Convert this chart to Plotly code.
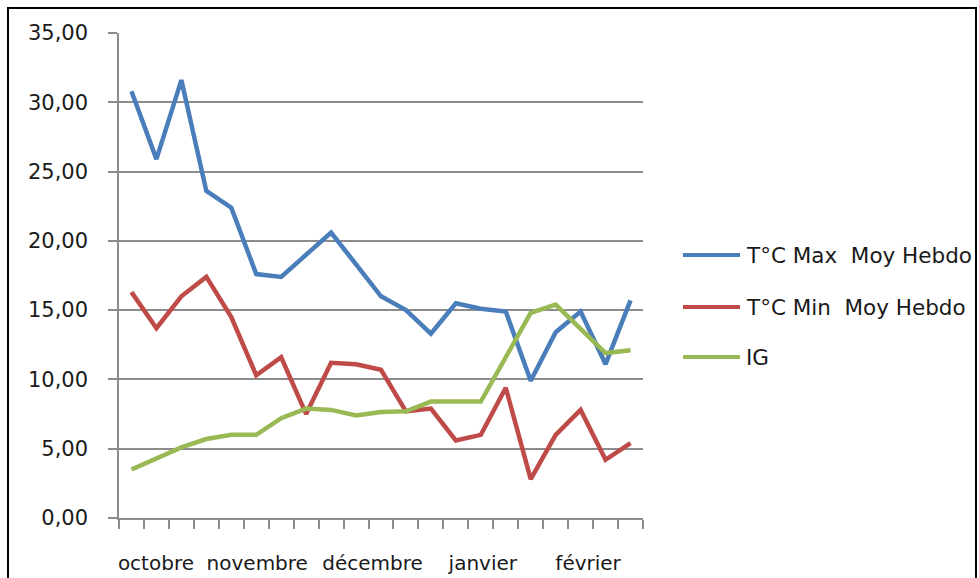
import plotly.graph_objects as go

# Weekly series, 21 weeks from October to February
weeks = list(range(21))
t_max = [30.8, 25.9, 31.6, 23.6, 22.4, 17.6, 17.4, 19.0, 20.6, 18.3, 16.0,
         15.0, 13.3, 15.5, 15.1, 14.9, 9.9, 13.4, 14.9, 11.1, 15.7]
t_min = [16.3, 13.7, 16.0, 17.4, 14.5, 10.3, 11.6, 7.5, 11.2, 11.1, 10.7,
         7.7, 7.9, 5.6, 6.0, 9.4, 2.8, 6.0, 7.8, 4.2, 5.4]
ig = [3.5, 4.3, 5.1, 5.7, 6.0, 6.0, 7.2, 7.9, 7.8, 7.4, 7.65,
      7.7, 8.4, 8.4, 8.4, 11.6, 14.8, 15.4, 13.7, 11.9, 12.1]

month_labels = ["octobre", "novembre", "décembre", "janvier", "février"]
month_pos = [0.98, 5.04, 9.66, 14.08, 18.3]

series_names = ["T°C Max  Moy Hebdo", "T°C Min  Moy Hebdo", "IG"]
series_values = [t_max, t_min, ig]
colors = ["#4A7EBB", "#BE4B48", "#98B954"]

GRID = "#8C8C8C"
FONT = "DejaVu Sans"
TXT = "#1a1a1a"

fig = go.Figure()
for name, vals, col in zip(series_names, series_values, colors):
    fig.add_trace(go.Scatter(x=weeks, y=vals, mode="lines", name=name,
                             line=dict(color=col, width=4.5),
                             showlegend=False))

W, H = 979, 578
L, R, T, B = 119, 643, 33, 518

fig.update_layout(
    width=W, height=H,
    margin=dict(l=L, r=W - R, t=T, b=H - B, pad=0),
    paper_bgcolor="white", plot_bgcolor="white",
    separators=", ",
    font=dict(family=FONT, size=20, color=TXT),
)
fig.update_yaxes(range=[0, 35], tickvals=[0, 5, 10, 15, 20, 25, 30, 35],
                 tickformat=".2f", showgrid=True, gridcolor=GRID, gridwidth=1.5,
                 showline=True, linecolor=GRID, linewidth=1.5,
                 ticks="outside", ticklen=9, tickcolor=GRID, tickwidth=1.5,
                 ticklabelstandoff=16, zeroline=False, automargin=False,
                 tickfont=dict(family=FONT, size=21, color=TXT))
fig.update_xaxes(range=[-0.5, 20.5], tickvals=month_pos, ticktext=month_labels,
                 ticks="", showgrid=False, zeroline=False, automargin=False,
                 showline=True, linecolor=GRID, linewidth=1.5,
                 ticklabelstandoff=26,
                 tickfont=dict(family=FONT, size=20, color=TXT),
                 minor=dict(tick0=-0.5, dtick=1, ticks="outside", ticklen=9,
                            tickcolor=GRID, tickwidth=1.5, showgrid=False))

# Legend drawn as line samples with labels on the right
legend_y = [255, 307, 357]
for name, col, yy in zip(series_names, colors, legend_y):
    yp = (B - yy) / (B - T)
    fig.add_shape(type="line", xref="paper", yref="paper",
                  x0=(683 - L) / (R - L), x1=(740 - L) / (R - L),
                  y0=yp, y1=yp, line=dict(color=col, width=4))
    fig.add_annotation(text=name, xref="paper", yref="paper",
                       x=(744 - L) / (R - L), y=yp,
                       xanchor="left", yanchor="middle", showarrow=False,
                       font=dict(family=FONT, size=21.5, color=TXT))

# Chart outline
fig.add_shape(type="rect", xref="paper", yref="paper",
              x0=(8 - L) / (R - L), x1=(976 - L) / (R - L),
              y0=(B - 590) / (B - T), y1=(B - 8) / (B - T),
              line=dict(color="black", width=2), layer="below")

fig.write_html("out.html")
